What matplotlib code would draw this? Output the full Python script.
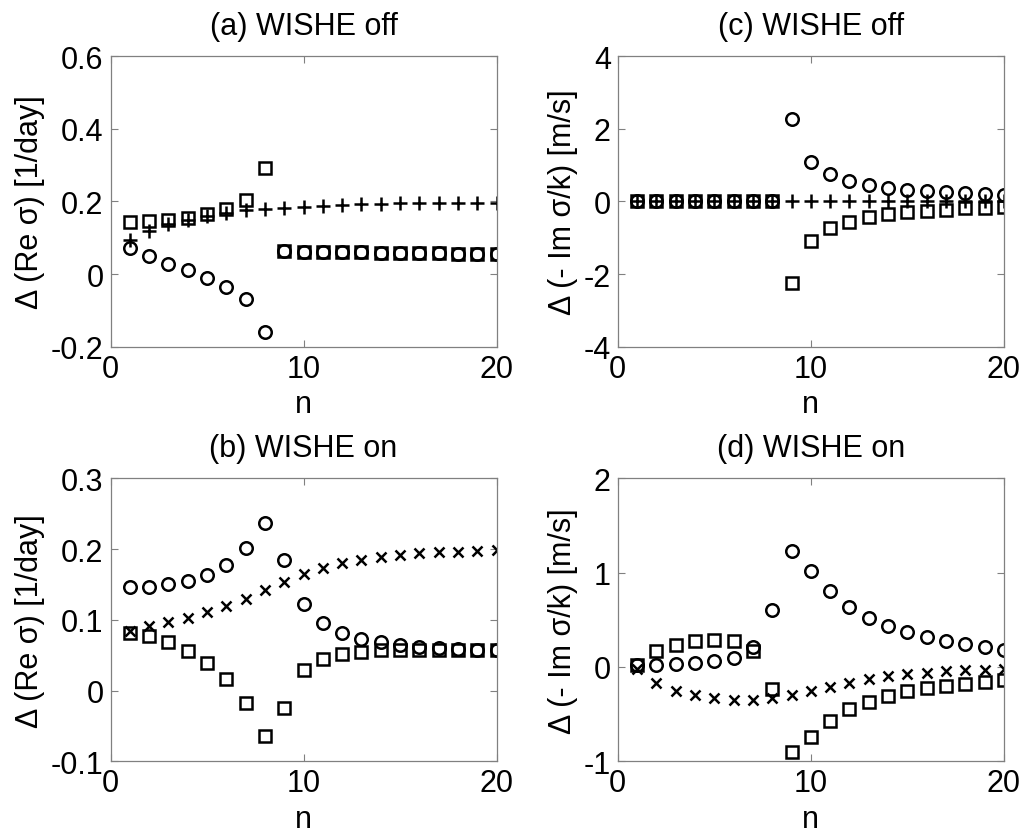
import matplotlib
matplotlib.use('Agg')
import matplotlib.pyplot as plt

plt.rcParams['font.family'] = ['Liberation Sans', 'DejaVu Sans']

n = list(range(1, 21))

# (a) WISHE off, growth rate
a_square = [0.143, 0.146, 0.150, 0.155, 0.165, 0.178, 0.205, 0.293, 0.063, 0.062,
            0.062, 0.061, 0.061, 0.058, 0.057, 0.057, 0.057, 0.056, 0.056, 0.056]
a_circle = [0.073, 0.050, 0.027, 0.011, -0.012, -0.035, -0.068, -0.160, 0.063, 0.062,
            0.062, 0.061, 0.061, 0.058, 0.057, 0.057, 0.057, 0.056, 0.056, 0.056]
a_plus = [0.095, 0.118, 0.137, 0.150, 0.161, 0.169, 0.176, 0.178, 0.181, 0.184,
          0.187, 0.190, 0.192, 0.194, 0.195, 0.196, 0.196, 0.197, 0.197, 0.197]

# (b) WISHE on, growth rate
b_circle = [0.146, 0.147, 0.150, 0.155, 0.164, 0.178, 0.201, 0.237, 0.185, 0.122,
            0.095, 0.082, 0.073, 0.068, 0.065, 0.062, 0.060, 0.059, 0.058, 0.058]
b_square = [0.082, 0.077, 0.068, 0.056, 0.039, 0.017, -0.017, -0.064, -0.024, 0.029,
            0.045, 0.052, 0.055, 0.057, 0.058, 0.058, 0.058, 0.057, 0.057, 0.057]
b_cross = [0.084, 0.091, 0.097, 0.103, 0.111, 0.119, 0.130, 0.142, 0.154, 0.165,
           0.173, 0.180, 0.185, 0.189, 0.192, 0.194, 0.196, 0.196, 0.197, 0.198]

# (c) WISHE off, phase speed
c_circle = [0, 0, 0, 0, 0, 0, 0, 0, 2.27, 1.085,
            0.755, 0.57, 0.45, 0.37, 0.31, 0.276, 0.25, 0.23, 0.20, 0.18]
c_square = [0, 0, 0, 0, 0, 0, 0, 0, -2.26, -1.08,
            -0.73, -0.56, -0.44, -0.35, -0.30, -0.26, -0.23, -0.19, -0.17, -0.14]
c_plus = [0] * 20

# (d) WISHE on, phase speed
d_circle = [0.02, 0.02, 0.028, 0.04, 0.06, 0.095, 0.21, 0.60, 1.23, 1.02,
            0.805, 0.64, 0.52, 0.43, 0.37, 0.315, 0.27, 0.24, 0.21, 0.18]
d_square = [0.02, 0.17, 0.23, 0.275, 0.286, 0.27, 0.17, -0.233, -0.905, -0.74,
            -0.57, -0.445, -0.37, -0.31, -0.26, -0.22, -0.20, -0.177, -0.155, -0.134]
d_cross = [-0.02, -0.17, -0.25, -0.30, -0.325, -0.345, -0.35, -0.33, -0.30, -0.26,
           -0.21, -0.17, -0.13, -0.10, -0.078, -0.06, -0.046, -0.035, -0.028, -0.02]

titles = ['(a) WISHE off', '(b) WISHE on', '(c) WISHE off', '(d) WISHE on']
ylab_re = 'Δ (Re σ) [1/day]'
ylab_im = 'Δ (- Im σ/k) [m/s]'

fig = plt.figure(figsize=(10.24, 8.37), dpi=100)
W, H = 1024, 837

def make_ax(x0, x1, y0, y1):
    return fig.add_axes([x0 / W, 1 - y1 / H, (x1 - x0) / W, (y1 - y0) / H])

ax_a = make_ax(110.5, 496.5, 57.3, 347.6)
ax_c = make_ax(617.7, 1004, 57.3, 347.6)
ax_b = make_ax(110.5, 496.5, 479.3, 762.3)
ax_d = make_ax(617.7, 1004, 479.3, 762.3)

FS = 22
mk = dict(linestyle='none', markerfacecolor='none', markeredgecolor='black',
          markeredgewidth=1.8, color='black')

def style(ax, title, ylabel, ylim, yticks, yticklabels):
    ax.set_xlim(0, 20)
    ax.set_ylim(*ylim)
    ax.set_xticks([0, 10, 20])
    ax.set_xticklabels(['0', '10', '20'])
    ax.set_yticks(yticks)
    ax.set_yticklabels(yticklabels)
    ax.tick_params(direction='in', top=True, right=True, length=5, width=0.8,
                   color='#808080', labelsize=FS, pad=5)
    for s in ax.spines.values():
        s.set_color('#808080')
        s.set_linewidth(0.9)
    ax.set_title(title, fontsize=FS, pad=16)
    ax.set_xlabel('n', fontsize=FS, labelpad=4)
    ax.set_ylabel(ylabel, fontsize=FS, labelpad=4)

# (a)
ax_a.plot(n, a_square, marker='s', markersize=8, **mk)
ax_a.plot(n, a_circle, marker='o', markersize=9, **mk)
ax_a.plot(n, a_plus, marker='+', markersize=9.5, **mk)
style(ax_a, titles[0], ylab_re, (-0.2, 0.6), [-0.2, 0, 0.2, 0.4, 0.6],
      ['-0.2', '0', '0.2', '0.4', '0.6'])

# (b)
ax_b.plot(n, b_square, marker='s', markersize=8, **mk)
ax_b.plot(n, b_circle, marker='o', markersize=9, **mk)
ax_b.plot(n, b_cross, marker='x', markersize=7, **mk)
style(ax_b, titles[1], ylab_re, (-0.1, 0.3), [-0.1, 0, 0.1, 0.2, 0.3],
      ['-0.1', '0', '0.1', '0.2', '0.3'])

# (c)
ax_c.plot(n, c_square, marker='s', markersize=8, **mk)
ax_c.plot(n, c_circle, marker='o', markersize=9, **mk)
ax_c.plot(n, c_plus, marker='+', markersize=9.5, **mk)
style(ax_c, titles[2], ylab_im, (-4, 4), [-4, -2, 0, 2, 4],
      ['-4', '-2', '0', '2', '4'])

# (d)
ax_d.plot(n, d_square, marker='s', markersize=8, **mk)
ax_d.plot(n, d_circle, marker='o', markersize=9, **mk)
ax_d.plot(n, d_cross, marker='x', markersize=7, **mk)
style(ax_d, titles[3], ylab_im, (-1, 2), [-1, 0, 1, 2],
      ['-1', '0', '1', '2'])

fig.savefig('out.png', dpi=100)
